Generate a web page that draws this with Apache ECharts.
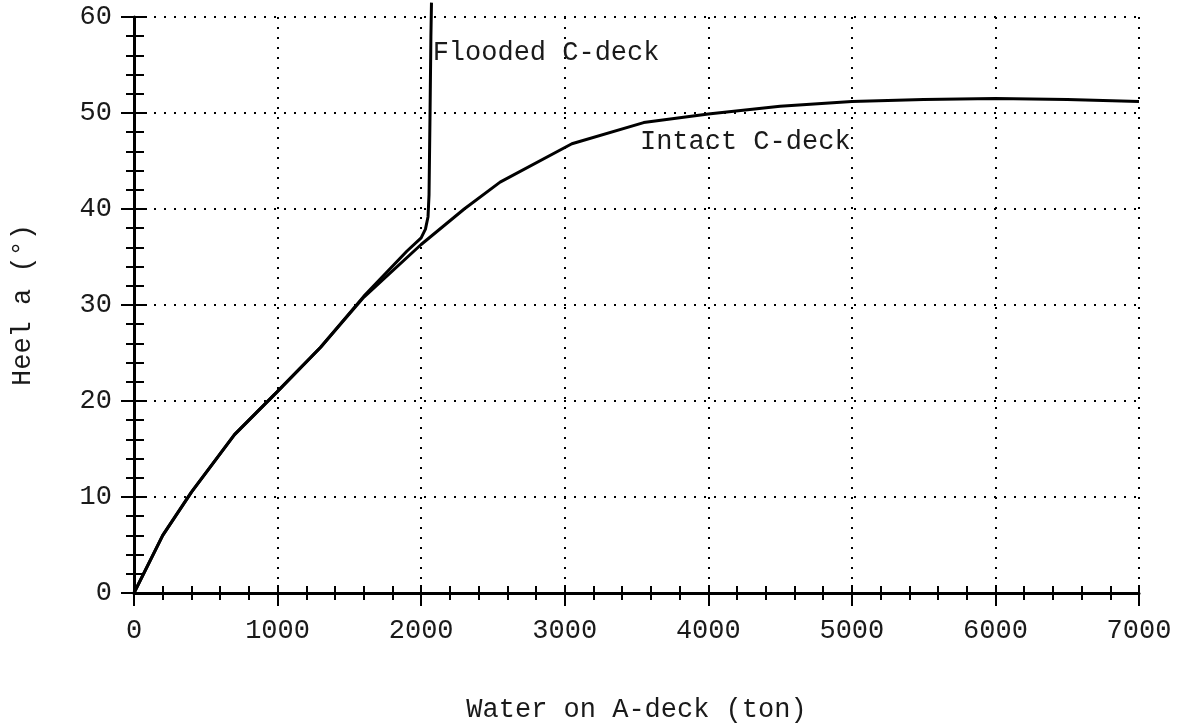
<!DOCTYPE html>
<html>
<head>
<meta charset="utf-8">
<script src="https://cdn.jsdelivr.net/npm/echarts@6/dist/echarts.min.js"></script>
<style>
  html, body { margin: 0; padding: 0; background: #fff; }
  #chart { width: 1181px; height: 728px; }
</style>
</head>
<body>
<div id="chart"></div>
<script>
// Heel angle vs. water on A-deck, for intact and flooded C-deck
const intactWater = [0, 200, 400, 700, 1000, 1300, 1600, 2000, 2300, 2550, 3050, 3550, 4000, 4500, 5000, 5500, 6000, 6500, 7000];
const intactHeel  = [0, 6.0, 10.5, 16.5, 21.0, 25.6, 30.8, 36.3, 40.0, 42.8, 46.8, 49.0, 49.9, 50.7, 51.2, 51.4, 51.5, 51.4, 51.2];

const floodedWater = [0, 200, 400, 700, 1000, 1300, 1600, 1900, 2000, 2030, 2048, 2055, 2062, 2068, 2072];
const floodedHeel  = [0, 6.0, 10.5, 16.5, 21.0, 25.6, 30.9, 35.6, 37.0, 37.9, 39.2, 41.5, 50.0, 58.0, 61.5];

const xTicks = { min: 0, max: 7000, interval: 1000 };
const yTicks = { min: 0, max: 60, interval: 10 };

const seriesNames = ['Flooded C-deck', 'Intact C-deck'];
const labelAt = { flooded: [2080, 56.3], intact: [3524, 47.0] };

const FONT = "'Liberation Mono', 'DejaVu Sans Mono', monospace";
const INK = '#1a1a1a';
const FS = 27;

function pairs(xs, ys) { return xs.map((x, i) => [x, ys[i]]); }
const plain = v => String(v);

const dotted = { color: '#000', width: 2, type: [2, 8] };

function xAxisBase(extra) {
  return Object.assign({
    type: 'value', min: xTicks.min, max: xTicks.max, interval: xTicks.interval,
    position: 'bottom', gridIndex: 0
  }, extra);
}
function yAxisBase(extra) {
  return Object.assign({
    type: 'value', min: yTicks.min, max: yTicks.max, interval: yTicks.interval,
    position: 'left', gridIndex: 0
  }, extra);
}

const chart = echarts.init(document.getElementById('chart'), null, { renderer: 'canvas' });

chart.setOption({
  animation: false,
  backgroundColor: '#fff',
  grid: { left: 134, right: 42, top: 17, bottom: 133, containLabel: false },
  xAxis: [
    xAxisBase({
      name: 'Water on A-deck (ton)', nameLocation: 'middle', nameGap: 103,
      nameTextStyle: { fontFamily: FONT, fontSize: FS, color: INK },
      axisLine: { show: true, onZero: false, lineStyle: { color: '#000', width: 3 } },
      axisTick: { show: true, inside: false, length: 13, lineStyle: { color: '#000', width: 2 } },
      minorTick: { show: true, splitNumber: 5, length: 7, lineStyle: { color: '#000', width: 2 } },
      axisLabel: { fontFamily: FONT, fontSize: FS, color: INK, margin: 24, formatter: plain },
      splitLine: { show: true, lineStyle: dotted }
    }),
    xAxisBase({
      axisLine: { show: false },
      axisTick: { show: true, inside: true, length: 8, lineStyle: { color: '#000', width: 2 } },
      minorTick: { show: true, splitNumber: 5, length: 7, lineStyle: { color: '#000', width: 2 } },
      axisLabel: { show: false },
      splitLine: { show: false }
    })
  ],
  yAxis: [
    yAxisBase({
      name: 'Heel a (°)', nameLocation: 'middle', nameGap: 98,
      nameTextStyle: { fontFamily: FONT, fontSize: FS, color: INK },
      axisLine: { show: true, onZero: false, lineStyle: { color: '#000', width: 3 } },
      axisTick: { show: true, inside: false, length: 13, lineStyle: { color: '#000', width: 2 } },
      minorTick: { show: true, splitNumber: 5, length: 8, lineStyle: { color: '#000', width: 2 } },
      axisLabel: { fontFamily: FONT, fontSize: FS, color: INK, margin: 22, formatter: plain },
      splitLine: { show: true, lineStyle: dotted }
    }),
    yAxisBase({
      axisLine: { show: false },
      axisTick: { show: true, inside: true, length: 13, lineStyle: { color: '#000', width: 2 } },
      minorTick: { show: true, splitNumber: 5, length: 10, lineStyle: { color: '#000', width: 2 } },
      axisLabel: { show: false },
      splitLine: { show: false }
    })
  ],
  series: [
    {
      name: seriesNames[0], type: 'line', xAxisIndex: 0, yAxisIndex: 0,
      data: pairs(floodedWater, floodedHeel),
      showSymbol: false, symbol: 'none', clip: false, smooth: false,
      lineStyle: { color: '#000', width: 3 }, z: 5
    },
    {
      name: seriesNames[1], type: 'line', xAxisIndex: 0, yAxisIndex: 0,
      data: pairs(intactWater, intactHeel),
      showSymbol: false, symbol: 'none', clip: false, smooth: false,
      lineStyle: { color: '#000', width: 3 }, z: 5
    }
  ]
});

// Curve labels, placed in data coordinates
const pf = chart.convertToPixel({ gridIndex: 0 }, labelAt.flooded);
const pi = chart.convertToPixel({ gridIndex: 0 }, labelAt.intact);
chart.setOption({
  graphic: [
    { type: 'text', x: pf[0], y: pf[1], z: 10,
      style: { text: seriesNames[0], fontFamily: FONT, fontSize: FS, fill: INK, align: 'left', verticalAlign: 'middle' } },
    { type: 'text', x: pi[0], y: pi[1], z: 10,
      style: { text: seriesNames[1], fontFamily: FONT, fontSize: FS, fill: INK, align: 'left', verticalAlign: 'middle' } }
  ]
});
</script>
</body>
</html>
